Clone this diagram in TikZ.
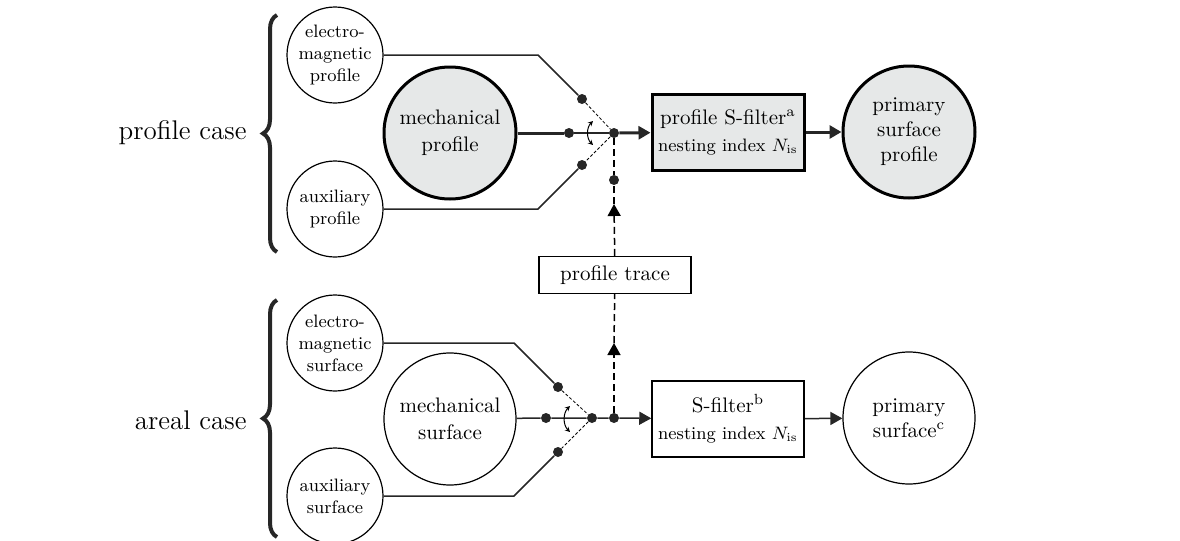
\documentclass[tikz,border=0pt]{standalone}
\usepackage{amsmath}
\usepackage{tikz}
\usetikzlibrary{arrows,arrows.meta,calc,positioning,decorations.pathreplacing}
\definecolor{panelgray}{RGB}{230,232,232}
\tikzset{src/.style={draw, circle,
    line width=0.6pt,
    minimum size=48pt,
    inner sep=0pt,
    align=center,
    font=\fontsize{9}{11}\selectfont
  },
  main src/.style={draw, circle,
    line width=0.6pt,
    minimum size=66pt,
    inner sep=0pt,
    align=center,
    font=\fontsize{10.5}{13.5}\selectfont
  },
  result/.style={main src, font=\fontsize{10.5}{12.5}\selectfont},
  filterbox/.style={draw, rectangle,
    line width=0.75pt,
    minimum width=76pt, minimum height=38pt,
    inner sep=0pt,
    align=center,
    font=\fontsize{10.5}{13.5}\selectfont
  },
  tracebox/.style={draw, rectangle,
    line width=0.6pt,
    minimum width=76pt, minimum height=18.5pt,
    inner sep=0pt,
    font=\fontsize{10.5}{13.5}\selectfont
  },
  joint/.style={circle, fill=black!85, inner sep=0pt, minimum size=5pt},
  wire/.style={line width=0.75pt, draw=black!85},
  heavy/.style={line width=1.5pt, draw=black!85},
  shaded/.style={fill=panelgray},
  flow/.style={-{Triangle[length=6pt,width=6.5pt]}},
  switch/.style={line width=0.4pt, dash pattern=on 1.5pt off 1pt},
  trace/.style={line width=0.75pt, dash pattern=on 3.5pt off 2pt},
  swing/.style={{Stealth[length=2.5pt,width=2.5pt]}-{Stealth[length=2.5pt,width=2.5pt]}, line width=0.5pt},
  casebrace/.style={decorate, decoration={brace, amplitude=7pt}, line width=2pt, draw=black!85},
  caselabel/.style={anchor=east, inner sep=0pt, font=\fontsize{13.5}{16}\selectfont}
}
\newcommand{\nestidx}{{\fontsize{9}{11}\selectfont nesting index $N_{\mathrm{is}}$}}

\begin{document}
\begin{tikzpicture}[x=0.5pt, y=-0.5pt]
    \useasboundingbox (0,0) rectangle (1180,541);

    \draw[casebrace] (277,252) -- (277,15);
    \draw[casebrace] (277,537) -- (277,300);
    \node[caselabel] (pcase) at (247,133) {profile case};
    \node[caselabel] (acase) at (247,420) {areal case};

    \node[src] (emp) at (335,55) {electro-\\magnetic\\profile};
    \node[src] (auxp) at (335,209) {auxiliary\\profile};
    \node[main src, line width=1.5pt, shaded] (mechp) at (450,133) {mechanical\\profile};
    \node[joint] (pm) at (569,133) {};
    \node[joint] (pu) at (582,99) {};
    \node[joint] (pl) at (582,165) {};
    \node[joint] (pj) at (614,133) {};
    \node[joint] (pt) at (614,180) {};
    \coordinate (ptip) at (614,204);
    \node[filterbox, line width=1.5pt, shaded] (pfilter) at (728,132) {profile S-filter\textsuperscript{a}\\\nestidx};
    \node[result, line width=1.5pt, shaded] (psurf) at (909,132) {primary\\surface\\profile};

    \node[tracebox] (trace) at (615,275) {profile trace};

    \node[src] (ems) at (335,343) {electro-\\magnetic\\surface};
    \node[src] (auxs) at (335,496) {auxiliary\\surface};
    \node[main src] (mechs) at (450,419) {mechanical\\surface};
    \node[joint] (sm) at (546,418) {};
    \node[joint] (su) at (558,387) {};
    \node[joint] (sl) at (558,452) {};
    \node[joint] (sj) at (592,418) {};
    \node[joint] (st) at (614,418) {};
    \coordinate (stip) at (614,343);
    \node[filterbox] (sfilter) at (728,419) {S-filter\textsuperscript{b}\\\nestidx};
    \node[result] (ssurf) at (909,418) {primary\\surface\textsuperscript{c}};

    \draw[wire] (emp.east) -- ($(pu)+(-44,-44)$) -- (pu);
    \draw[wire] (auxp.east) -- ($(pl)+(-44,44)$) -- (pl);
    \draw[heavy] (mechp) -- (pm);
    \draw[wire] (pm) -- (pj);
    \draw[switch] (pu) -- (pj) -- (pl);
    \draw[swing] (593,121) to[bend right=45] (593,145);
    \draw[heavy, flow] (pj) -- (pfilter);
    \draw[heavy, flow] (pfilter) -- (psurf);
    \draw[trace] (pj) -- (pt);
    \draw[trace] (ptip) -- (pt);
    \draw[trace, flow] (trace) -- (ptip);

    \draw[wire] (ems.east) -- ($(su)+(-44,-44)$) -- (su);
    \draw[wire] (auxs.east) -- ($(sl)+(-44,44)$) -- (sl);
    \draw[wire] (mechs) -- (sm) -- (sj) -- (st);
    \draw[switch] (su) -- (sj) -- (sl);
    \draw[swing] (570,406) to[bend right=45] (570,432);
    \draw[wire, flow] (st) -- (sfilter);
    \draw[wire, flow] (sfilter) -- (ssurf);
    \draw[trace, flow] (st) -- (stip);
    \draw[trace] (stip) -- (trace);
\end{tikzpicture}
\end{document}
